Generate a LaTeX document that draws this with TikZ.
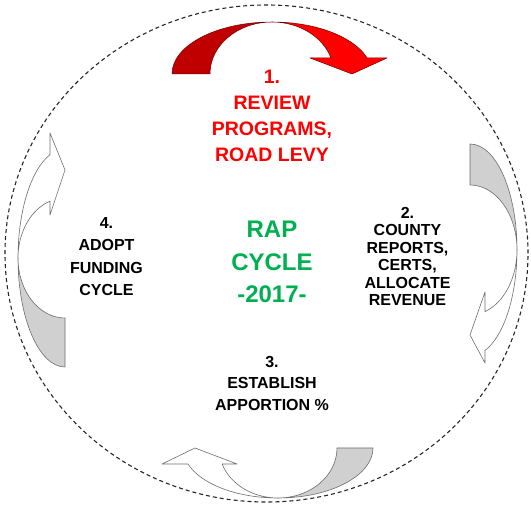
\documentclass[tikz,border=0pt]{standalone}
\usepackage{fontspec}
\setmainfont{Liberation Sans}
\definecolor{darkred}{HTML}{C00000}
\definecolor{brightred}{HTML}{FF0000}
\definecolor{redline}{HTML}{700000}
\definecolor{rapgreen}{HTML}{00B050}
\definecolor{bandgray}{HTML}{D0D0D0}
\definecolor{edgegray}{HTML}{6E6E6E}
\newcommand\curvedarr[9]{%
  \pgfmathsetmacro\arrTh{asin(#4/#3)}%
  \pgfmathsetmacro\arrIn{#2*cos(\arrTh)}%
  \filldraw[#8] (-#1,0) arc[start angle=180,end angle=90,x radius=#1,y radius=#3]
     arc[start angle=90,end angle=180,x radius=#2,y radius=#3] -- cycle;
  \filldraw[#9] (0,#3) arc[start angle=90,end angle=\arrTh,x radius=#1,y radius=#3]
     -- (#6,#4) -- (#7,0) -- (#5,#4) -- (\arrIn,#4)
     arc[start angle=\arrTh,end angle=90,x radius=#2,y radius=#3] -- cycle;
}
\tikzset{
  reddark/.style={fill=darkred,draw=redline,line width=0.5pt,line join=round},
  redbright/.style={fill=brightred,draw=redline,line width=0.5pt,line join=round},
  graypart/.style={fill=bandgray,draw=edgegray,line width=0.6pt,line join=round},
  whitepart/.style={fill=white,draw=edgegray,line width=0.6pt,line join=round},
  steplabel/.style={inner sep=0pt,align=center,anchor=north,font=\bfseries\fontsize{16}{17.5}\selectfont},
}
\begin{document}
\begin{tikzpicture}[x=1pt,y=1pt]
\useasboundingbox (0,0) rectangle (531,506);
% dashed outer ring
\draw[line width=1.1pt,dash pattern=on 4pt off 3pt,black!85] (266.5,252.5) ellipse[x radius=261.5,y radius=248.5];
% top red arrow
\begin{scope}[shift={(272,432)}]
  \curvedarr{100}{62}{52}{16}{38}{115}{80}{reddark}{redbright}
\end{scope}
% right arrow
\begin{scope}[shift={(470,256)},rotate=-90]
  \curvedarr{106}{65}{47}{15}{42}{113}{85}{graypart}{whitepart}
\end{scope}
% bottom arrow
\begin{scope}[shift={(278,58)},rotate=180]
  \curvedarr{95}{59}{50}{16}{41}{116}{83}{graypart}{whitepart}
\end{scope}
% left arrow
\begin{scope}[shift={(65,248)},rotate=90]
  \curvedarr{109}{60}{47}{15}{43}{125}{88}{graypart}{whitepart}
\end{scope}
% texts
\node[steplabel,text=brightred,font=\bfseries\fontsize{19.5}{26}\selectfont] (s1) at (272,436) {1.\\REVIEW\\PROGRAMS,\\ROAD LEVY};
\node[steplabel,text=rapgreen,font=\bfseries\fontsize{24}{32.5}\selectfont] (rap) at (272,285) {RAP\\CYCLE\\-2017-};
\node[steplabel] (s2) at (407.5,299) {2.\\COUNTY\\REPORTS,\\CERTS,\\ALLOCATE\\REVENUE};
\node[steplabel,font=\bfseries\fontsize{16}{22.5}\selectfont] (s4) at (106.5,289) {4.\\ADOPT\\FUNDING\\CYCLE};
\node[steplabel,font=\bfseries\fontsize{16}{21.5}\selectfont] (s3) at (272,150) {3.\\ESTABLISH\\APPORTION \%};
\end{tikzpicture}
\end{document}
